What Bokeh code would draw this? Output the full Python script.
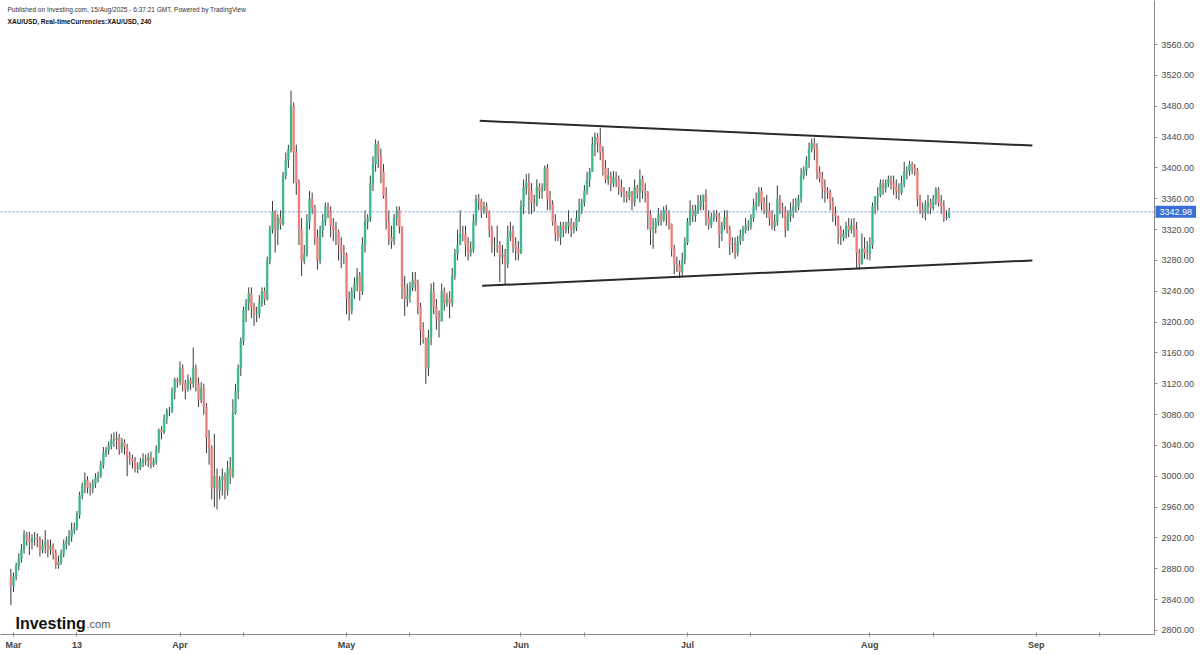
import numpy as np
from bokeh.plotting import figure
from bokeh.models import ColumnDataSource, Span, Label, FixedTicker, Range1d, NumeralTickFormatter
from bokeh.embed import file_html
from bokeh.resources import INLINE

# ---------------- data (XAU/USD, ~3 bars per trading day) ----------------
days = ["2025-02-28",
        "2025-03-03", "2025-03-04", "2025-03-05", "2025-03-06", "2025-03-07", "2025-03-10", "2025-03-11",
        "2025-03-12", "2025-03-13", "2025-03-14", "2025-03-17", "2025-03-18", "2025-03-19", "2025-03-20",
        "2025-03-21", "2025-03-24", "2025-03-25", "2025-03-26", "2025-03-27", "2025-03-28", "2025-03-31",
        "2025-04-01", "2025-04-02", "2025-04-03", "2025-04-04", "2025-04-07", "2025-04-08", "2025-04-09",
        "2025-04-10", "2025-04-11", "2025-04-14", "2025-04-15", "2025-04-16", "2025-04-17", "2025-04-21",
        "2025-04-22", "2025-04-23", "2025-04-24", "2025-04-25", "2025-04-28", "2025-04-29", "2025-04-30",
        "2025-05-01", "2025-05-02", "2025-05-05", "2025-05-06", "2025-05-07", "2025-05-08", "2025-05-09",
        "2025-05-12", "2025-05-13", "2025-05-14", "2025-05-15", "2025-05-16", "2025-05-19", "2025-05-20",
        "2025-05-21", "2025-05-22", "2025-05-23", "2025-05-26", "2025-05-27", "2025-05-28", "2025-05-29",
        "2025-05-30",
        "2025-06-02", "2025-06-03", "2025-06-04", "2025-06-05", "2025-06-06", "2025-06-09", "2025-06-10",
        "2025-06-11", "2025-06-12", "2025-06-13", "2025-06-16", "2025-06-17", "2025-06-18", "2025-06-19",
        "2025-06-20", "2025-06-23", "2025-06-24", "2025-06-25", "2025-06-26", "2025-06-27", "2025-06-30",
        "2025-07-01", "2025-07-02", "2025-07-03", "2025-07-04", "2025-07-07", "2025-07-08", "2025-07-09",
        "2025-07-10", "2025-07-11", "2025-07-14", "2025-07-15", "2025-07-16", "2025-07-17", "2025-07-18",
        "2025-07-21", "2025-07-22", "2025-07-23", "2025-07-24", "2025-07-25", "2025-07-28", "2025-07-29",
        "2025-07-30", "2025-07-31",
        "2025-08-01", "2025-08-04", "2025-08-05", "2025-08-06", "2025-08-07", "2025-08-08", "2025-08-11",
        "2025-08-12", "2025-08-13", "2025-08-14", "2025-08-15"]

first_open = 2870

close_by_day = [
    [2858],
    [2870, 2884, 2893], [2905, 2925, 2918], [2915, 2920, 2920], [2918, 2905, 2911], [2915, 2905, 2910],
    [2900, 2885, 2889], [2900, 2912, 2916], [2922, 2930, 2934], [2950, 2975, 2988], [2995, 2985, 2984],
    [2990, 2998, 3001], [3015, 3030, 3034], [3040, 3048, 3047], [3050, 3035, 3044], [3038, 3025, 3023],
    [3020, 3010, 3011], [3018, 3022, 3020], [3025, 3015, 3019], [3035, 3060, 3057], [3075, 3085, 3085],
    [3110, 3125, 3123],
    [3140, 3120, 3113], [3125, 3120, 3140], [3120, 3100, 3114], [3090, 3050, 3037], [2985, 3000, 2982],
    [2995, 3000, 2982], [3010, 3000, 3082], [3110, 3140, 3175], [3215, 3225, 3237], [3220, 3210, 3211],
    [3225, 3240, 3230], [3280, 3320, 3343], [3320, 3335, 3327], [3390, 3410, 3424], [3480, 3420, 3381],
    [3320, 3280, 3288], [3330, 3360, 3349], [3310, 3280, 3319], [3330, 3350, 3344], [3325, 3320, 3317],
    [3300, 3290, 3288],
    [3230, 3215, 3239], [3250, 3260, 3240], [3300, 3330, 3334], [3380, 3405, 3431], [3415, 3395, 3364],
    [3330, 3310, 3305], [3335, 3345, 3324], [3245, 3230, 3235], [3245, 3255, 3250], [3220, 3190, 3178],
    [3140, 3180, 3240], [3220, 3205, 3201], [3240, 3225, 3230], [3225, 3260, 3289], [3300, 3315, 3314],
    [3300, 3290, 3294], [3330, 3360, 3357], [3345, 3350, 3342], [3320, 3300, 3300], [3300, 3285, 3288],
    [3275, 3310, 3318], [3300, 3295, 3289],
    [3350, 3375, 3381], [3370, 3355, 3353], [3375, 3370, 3373], [3400, 3360, 3352], [3330, 3315, 3310],
    [3325, 3320, 3325], [3330, 3320, 3323], [3335, 3345, 3355], [3370, 3385, 3395], [3430, 3440, 3432],
    [3420, 3400, 3385], [3390, 3380, 3388], [3385, 3375, 3369], [3365, 3362, 3369], [3355, 3375, 3368],
    [3385, 3370, 3368], [3340, 3320, 3323], [3330, 3340, 3332], [3345, 3340, 3327], [3295, 3275, 3274],
    [3265, 3280, 3303],
    [3330, 3345, 3338], [3345, 3350, 3357], [3365, 3335, 3326], [3335, 3340, 3337], [3315, 3325, 3336],
    [3320, 3300, 3301], [3290, 3305, 3313], [3320, 3325, 3324], [3335, 3350, 3355], [3370, 3355, 3343],
    [3345, 3335, 3324], [3330, 3360, 3347], [3345, 3320, 3338], [3345, 3350, 3350], [3360, 3390, 3397],
    [3410, 3425, 3432], [3425, 3395, 3387], [3375, 3370, 3368], [3355, 3340, 3337], [3320, 3310, 3314],
    [3325, 3320, 3326], [3320, 3290, 3275], [3295, 3290, 3289],
    [3300, 3350, 3363], [3365, 3380, 3373], [3380, 3385, 3380], [3375, 3370, 3368], [3380, 3395, 3396],
    [3405, 3400, 3397], [3360, 3345, 3342], [3350, 3355, 3348], [3360, 3372, 3355], [3350, 3335, 3336],
    [3343],
]

high_by_day = [
    [2880],
    [2875, 2888, 2900], [2912, 2930, 2928], [2928, 2925, 2928], [2926, 2922, 2918], [2930, 2918, 2918],
    [2913, 2905, 2897], [2905, 2918, 2922], [2930, 2940, 2940], [2955, 2980, 2992], [3005, 3000, 2992],
    [2996, 3004, 3006], [3020, 3038, 3038], [3045, 3055, 3057], [3058, 3055, 3050], [3048, 3042, 3032],
    [3028, 3025, 3018], [3024, 3030, 3028], [3030, 3032, 3024], [3040, 3062, 3065], [3080, 3088, 3090],
    [3115, 3128, 3128],
    [3149, 3145, 3125], [3132, 3128, 3167], [3145, 3128, 3122], [3120, 3095, 3060], [3040, 3055, 3010],
    [3000, 3010, 3005], [3020, 3025, 3100], [3120, 3145, 3180], [3220, 3230, 3245], [3245, 3225, 3220],
    [3235, 3245, 3245], [3285, 3325, 3357], [3345, 3340, 3345], [3395, 3420, 3430], [3500, 3485, 3430],
    [3385, 3335, 3300], [3340, 3370, 3368], [3352, 3320, 3325], [3340, 3355, 3355], [3350, 3335, 3330],
    [3320, 3310, 3300],
    [3290, 3240, 3245], [3258, 3270, 3265], [3310, 3345, 3340], [3390, 3415, 3437], [3435, 3425, 3405],
    [3375, 3345, 3325], [3340, 3350, 3350], [3270, 3260, 3250], [3252, 3265, 3265], [3255, 3225, 3200],
    [3180, 3190, 3250], [3252, 3230, 3215], [3250, 3245, 3238], [3240, 3270, 3295], [3320, 3345, 3325],
    [3325, 3310, 3305], [3340, 3365, 3366], [3360, 3356, 3355], [3345, 3325, 3310], [3325, 3305, 3300],
    [3295, 3325, 3330], [3325, 3310, 3305],
    [3358, 3385, 3392], [3393, 3380, 3365], [3385, 3380, 3380], [3403, 3405, 3370], [3358, 3340, 3325],
    [3330, 3330, 3330], [3345, 3335, 3330], [3345, 3360, 3360], [3378, 3395, 3400], [3440, 3446, 3445],
    [3452, 3428, 3410], [3400, 3395, 3396], [3395, 3390, 3385], [3375, 3370, 3375], [3370, 3385, 3378],
    [3398, 3390, 3380], [3370, 3345, 3335], [3335, 3348, 3345], [3350, 3352, 3345], [3328, 3300, 3285],
    [3280, 3290, 3310],
    [3335, 3358, 3352], [3352, 3365, 3365], [3365, 3372, 3345], [3342, 3345, 3345], [3342, 3330, 3345],
    [3345, 3325, 3310], [3310, 3312, 3320], [3325, 3335, 3332], [3340, 3360, 3368], [3375, 3375, 3362],
    [3365, 3355, 3345], [3340, 3377, 3365], [3355, 3350, 3345], [3355, 3360, 3361], [3365, 3400, 3402],
    [3415, 3433, 3438], [3439, 3432, 3402], [3395, 3385, 3375], [3372, 3362, 3350], [3338, 3325, 3320],
    [3330, 3335, 3334], [3335, 3330, 3295], [3315, 3310, 3305],
    [3310, 3355, 3363], [3375, 3385, 3385], [3385, 3390, 3390], [3390, 3385, 3380], [3390, 3408, 3402],
    [3409, 3408, 3405], [3400, 3365, 3355], [3358, 3365, 3360], [3365, 3375, 3375], [3365, 3358, 3345],
    [3348],
]

low_by_day = [
    [2833],
    [2850, 2865, 2878], [2888, 2900, 2910], [2898, 2905, 2910], [2908, 2896, 2900], [2900, 2895, 2898],
    [2892, 2880, 2880], [2885, 2895, 2905], [2910, 2915, 2925], [2930, 2945, 2970], [2978, 2978, 2975],
    [2978, 2985, 2992], [2998, 3010, 3025], [3028, 3035, 3038], [3035, 3028, 3030], [3028, 3000, 3015],
    [3010, 3005, 3004], [3008, 3012, 3014], [3012, 3010, 3012], [3015, 3030, 3048], [3055, 3068, 3078],
    [3082, 3100, 3115],
    [3118, 3110, 3100], [3110, 3112, 3115], [3110, 3090, 3095], [3080, 3030, 3015], [2970, 2960, 2957],
    [2970, 2975, 2970], [2975, 2990, 2998], [3080, 3100, 3130], [3170, 3200, 3215], [3205, 3195, 3200],
    [3205, 3220, 3222], [3228, 3275, 3315], [3290, 3300, 3320], [3325, 3385, 3400], [3420, 3380, 3365],
    [3300, 3260, 3275], [3285, 3320, 3340], [3300, 3268, 3275], [3310, 3325, 3335], [3310, 3305, 3300],
    [3280, 3270, 3275],
    [3210, 3202, 3210], [3230, 3240, 3228], [3235, 3290, 3320], [3330, 3370, 3395], [3400, 3380, 3360],
    [3320, 3300, 3295], [3300, 3325, 3315], [3230, 3208, 3220], [3225, 3240, 3240], [3210, 3170, 3172],
    [3120, 3130, 3170], [3210, 3190, 3180], [3205, 3215, 3220], [3205, 3220, 3255], [3280, 3300, 3305],
    [3285, 3280, 3285], [3290, 3325, 3345], [3335, 3340, 3335], [3310, 3290, 3285], [3290, 3252, 3275],
    [3249, 3270, 3305], [3290, 3280, 3280],
    [3289, 3340, 3365], [3340, 3340, 3343], [3350, 3360, 3360], [3370, 3345, 3345], [3325, 3305, 3305],
    [3300, 3310, 3315], [3315, 3310, 3315], [3318, 3330, 3340], [3350, 3365, 3375], [3395, 3415, 3420],
    [3410, 3390, 3380], [3378, 3370, 3375], [3375, 3365, 3362], [3355, 3355, 3358], [3345, 3350, 3360],
    [3355, 3360, 3355], [3320, 3300, 3295], [3315, 3325, 3325], [3330, 3325, 3320], [3285, 3262, 3265],
    [3257, 3260, 3275],
    [3300, 3325, 3330], [3330, 3340, 3345], [3345, 3325, 3320], [3322, 3330, 3330], [3296, 3305, 3320],
    [3315, 3287, 3290], [3282, 3285, 3300], [3305, 3315, 3318], [3320, 3330, 3345], [3350, 3345, 3340],
    [3335, 3325, 3320], [3318, 3325, 3340], [3335, 3310, 3318], [3330, 3335, 3342], [3345, 3355, 3385],
    [3390, 3400, 3420], [3410, 3385, 3381], [3360, 3355, 3360], [3345, 3330, 3325], [3301, 3300, 3305],
    [3308, 3310, 3315], [3310, 3270, 3268], [3275, 3282, 3281],
    [3280, 3295, 3340], [3345, 3362, 3365], [3368, 3375, 3372], [3365, 3360, 3358], [3365, 3375, 3385],
    [3390, 3392, 3390], [3350, 3340, 3335], [3332, 3340, 3340], [3345, 3352, 3350], [3340, 3330, 3332],
    [3335],
]

last_price = 3342.98

holidays = ["2025-04-18"]
tick_dates = ["2025-03-03", "2025-03-13", "2025-04-01", "2025-04-11", "2025-05-01", "2025-05-13",
              "2025-06-02", "2025-06-12", "2025-07-01", "2025-07-11", "2025-08-01", "2025-08-13",
              "2025-09-01", "2025-09-11"]
tick_labels = ["Mar", "13", "Apr", "", "May", "", "Jun", "", "Jul", "", "Aug", "", "Sep", ""]
price_ticks = list(range(2800, 3561, 40))

# drawn trend lines (start/end as trading-day index, price)
trend_x0 = [58.8, 59.1]
trend_y0 = [3461, 3247]
trend_x1 = [128.5, 128.5]
trend_y1 = [3429, 3280]

# ---------------- build bars ----------------
base = np.datetime64("2025-03-03")
bars_per_day = 3
xs, op, hi, lo, cl = [], [], [], [], []
prev = first_open
for n, (d, cs, hs, ls) in enumerate(zip(days, close_by_day, high_by_day, low_by_day)):
    di = int(np.busday_count(base, np.datetime64(d), holidays=holidays))
    start = bars_per_day - len(cs) if n == 0 else 0
    for k, (c, h, l) in enumerate(zip(cs, hs, ls)):
        xs.append(di + (start + k) / bars_per_day)
        op.append(prev)
        cl.append(c)
        hi.append(max(h, prev, c))
        lo.append(min(l, prev, c))
        prev = c

up = [c >= o for o, c in zip(op, cl)]
src = ColumnDataSource(dict(
    x=xs, open=op, close=cl, high=hi, low=lo,
    top=[max(o, c) for o, c in zip(op, cl)],
    bottom=[min(o, c) for o, c in zip(op, cl)],
    color=["#3cb88b" if u else "#ef7f7b" for u in up],
))

tick_idx = [int(np.busday_count(base, np.datetime64(t), holidays=holidays)) for t in tick_dates]

# ---------------- figure ----------------
x0, x1 = -1.64, 143.9
y0, y1 = 2794.8, 3617.1
p = figure(frame_width=1154, frame_height=634,
           x_range=Range1d(x0, x1), y_range=Range1d(y0, y1),
           y_axis_location="right", output_backend="svg", toolbar_location=None,
           min_border_left=0, min_border_top=0, min_border_right=41, min_border_bottom=0,
           background_fill_color="white", border_fill_color="white")
p.grid.visible = False
p.outline_line_color = None

p.segment(x0="x", y0="low", x1="x", y1="high", source=src, line_color="#3a3a3a", line_width=1)
p.vbar(x="x", width=0.22, top="top", bottom="bottom", source=src,
       fill_color="color", line_color="color", line_width=0.5)

# trend lines
p.segment(x0=trend_x0, y0=trend_y0, x1=trend_x1, y1=trend_y1, line_color="#2a2a2a", line_width=2)

# current price line
p.add_layout(Span(location=last_price, dimension="width", line_color="#6f8fd8",
                  line_dash="2 2", line_width=1))

# axes
ya = p.yaxis[0]
ya.ticker = FixedTicker(ticks=price_ticks)
ya.formatter = NumeralTickFormatter(format="0.00")
ya.major_label_text_font = "Liberation Sans"
ya.major_label_text_font_size = "9px"
ya.major_label_text_color = "#4a4a4a"
ya.axis_line_color = "#8c8c8c"
ya.major_tick_line_color = "#8c8c8c"
ya.major_tick_in = 0
ya.major_tick_out = 3
ya.major_label_standoff = 4
ya.minor_tick_line_color = None

xa = p.xaxis[0]
xa.ticker = FixedTicker(ticks=tick_idx)
xa.major_label_overrides = {t: lab for t, lab in zip(tick_idx, tick_labels)}
xa.major_label_text_font = "Liberation Sans"
xa.major_label_text_font_size = "9px"
xa.major_label_text_font_style = "bold"
xa.major_label_text_color = "#444444"
xa.axis_line_color = "#8c8c8c"
xa.major_tick_line_color = "#8c8c8c"
xa.major_tick_in = 2
xa.major_tick_out = 2
xa.major_label_standoff = 3
xa.minor_tick_line_color = None

# price tag (placed in the right panel so it is not clipped to the frame)
p.add_layout(Label(x=x1, y=last_price, text=f"{last_price:.2f}", x_offset=1,
                   text_font="Liberation Sans", text_font_size="9px", text_color="white",
                   text_baseline="middle", background_fill_color="#3a6fd8", padding=(4, 3)), "right")

# header texts
p.add_layout(Label(x=x0, y=y1, y_offset=-5, x_offset=7,
                   text="Published on Investing.com, 15/Aug/2025 - 6:37:21 GMT, Powered by TradingView",
                   text_font="Liberation Sans", text_font_size="6.5px", text_color="#333333",
                   text_baseline="top"))
p.add_layout(Label(x=x0, y=y1, y_offset=-17, x_offset=7,
                   text="XAU/USD, Real-timeCurrencies:XAU/USD, 240",
                   text_font="Liberation Sans", text_font_size="6.6px", text_font_style="bold",
                   text_color="#111111", text_baseline="top"))

# logo
p.add_layout(Label(x=x0, y=y0, x_offset=15, y_offset=11, text="Investing",
                   text_font="Liberation Sans", text_font_size="16px", text_font_style="bold",
                   text_color="#111111", text_baseline="alphabetic"))
p.add_layout(Label(x=x0, y=y0, x_offset=86, y_offset=11, text=".com",
                   text_font="Liberation Sans", text_font_size="11px",
                   text_color="#555555", text_baseline="alphabetic"))

p.styles = {"border-right": "1px solid #8c8c8c"}

open("out.html", "w").write(file_html(p, INLINE))
